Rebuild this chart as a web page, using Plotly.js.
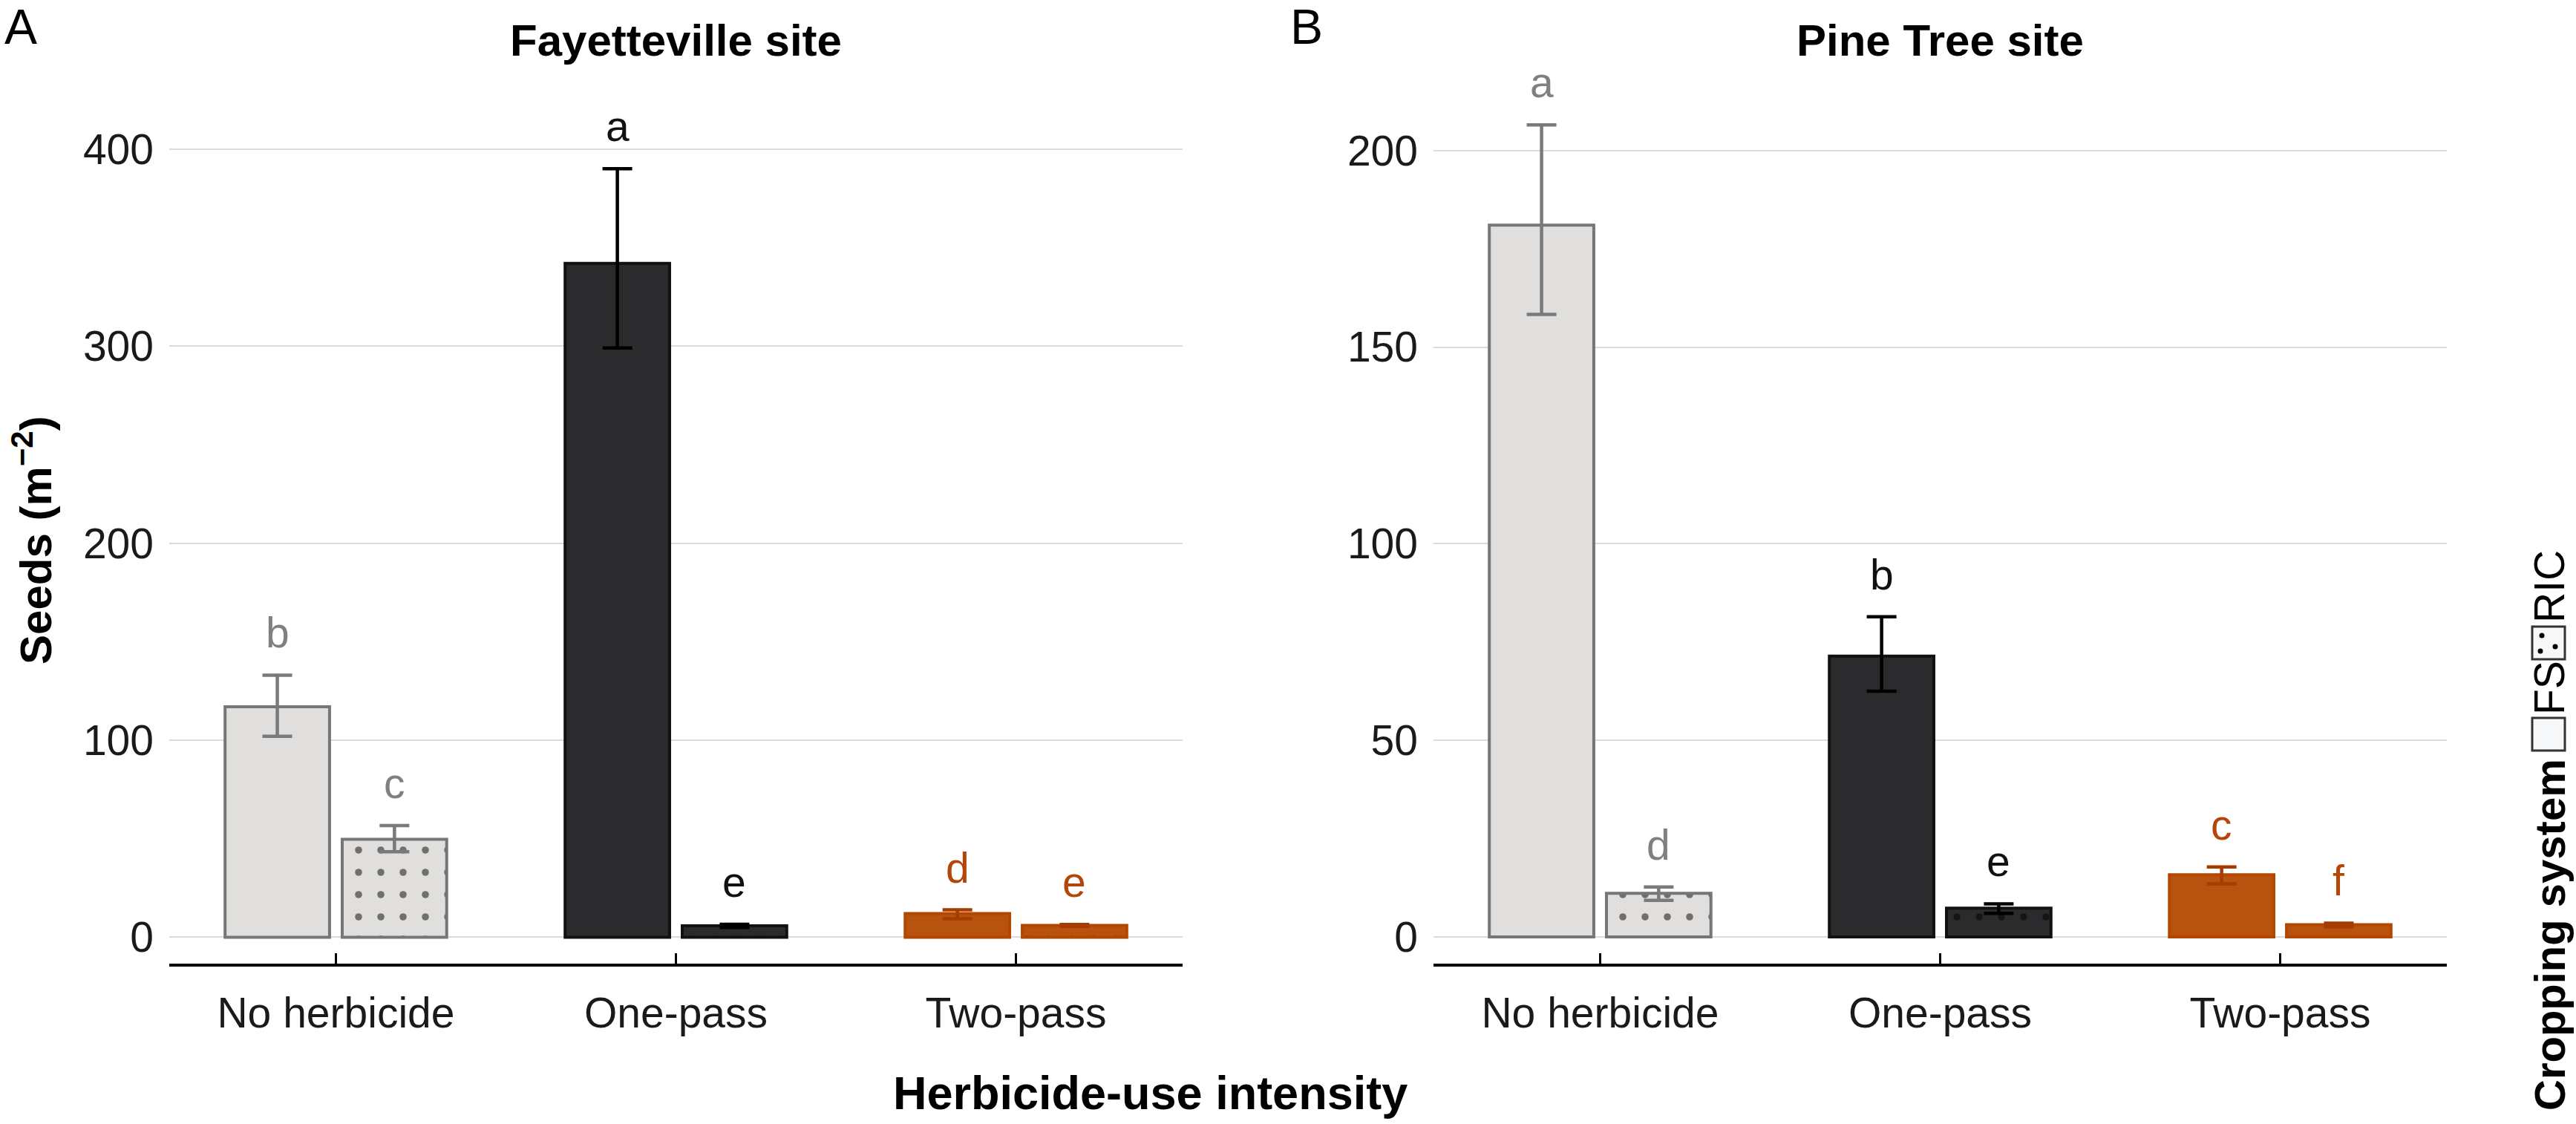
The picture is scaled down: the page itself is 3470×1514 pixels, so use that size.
<!DOCTYPE html>
<html><head><meta charset="utf-8">
<script src="https://cdn.plot.ly/plotly-3.0.1.min.js"></script>
<style>html,body{margin:0;padding:0;background:#fff}#chart{width:3470px;height:1514px}</style>
</head><body><div id="chart"></div>
<script>
// ---------- data ----------
const herbicide = ["No herbicide", "One-pass", "Two-pass"];
const systems = ["FS", "RIC"];
const siteTitles = ["Fayetteville site", "Pine Tree site"];
const panelLetters = ["A", "B"];

// Fayetteville
const fayFS = [117, 342, 12];
const fayFSplus = [16, 48, 1.9];
const fayFSminus = [15, 43, 2.6];
const fayRIC = [49.7, 5.8, 6];
const fayRICplus = [7, 0.8, 0.5];
const fayRICminus = [6.3, 0.8, 0.5];
const fayFSletters = ["b", "a", "d"];
const fayRICletters = ["c", "e", "e"];

// Pine Tree
const pineFS = [181, 71.4, 15.8];
const pineFSplus = [25.5, 10, 2];
const pineFSminus = [22.7, 8.9, 2.3];
const pineRIC = [11.1, 7.3, 3.1];
const pineRICplus = [1.6, 1.1, 0.4];
const pineRICminus = [1.8, 1.3, 0.5];
const pineFSletters = ["a", "b", "c"];
const pineRICletters = ["d", "e", "f"];

const yTicksFay = [0, 100, 200, 300, 400];
const yTicksPine = [0, 50, 100, 150, 200];

// ---------- styles ----------
const W = 3470, H = 1514;
const fillCol = ["#e0dfdd", "#2b2b2d", "#b8530f"];
const lineCol = ["#767676", "#111111", "#b34700"];
const errCol = ["#7a7a7a", "#000000", "#a63c00"];
const letterCol = ["#808080", "#111111", "#b5460a"];
const FONT = "Liberation Sans, Arial, Helvetica, sans-serif";

const panels = [
  {xa: "x", ya: "y", vals: [fayFS, fayRIC], plus: [fayFSplus, fayRICplus], minus: [fayFSminus, fayRICminus], letters: [fayFSletters, fayRICletters]},
  {xa: "x2", ya: "y2", vals: [pineFS, pineRIC], plus: [pineFSplus, pineRICplus], minus: [pineFSminus, pineRICminus], letters: [pineFSletters, pineRICletters]}
];

const xDomains = [[228 / W, 1593 / W], [1931 / W, 3296 / W]];
const yDomain = [1 - 1298 / H, 1 - 110 / H];
const xRange = [-0.49, 2.49];
const bargap = 0.311, bargroupgap = 0.108;

const traces = [];
const annotations = [];

panels.forEach((p, pi) => {
  const catPx = (xDomains[pi][1] - xDomains[pi][0]) * W / (xRange[1] - xRange[0]);
  const slotPx = catPx * (1 - bargap) / 2;
  systems.forEach((s, si) => {
    herbicide.forEach((h, hi) => {
      const pattern = si === 1
        ? {shape: ".", fgcolor: "#000000", fillmode: "overlay", size: 30, solidity: 0.08}
        : {shape: ""};
      traces.push({
        type: "bar",
        x: [h], y: [p.vals[si][hi]],
        xaxis: p.xa, yaxis: p.ya,
        offsetgroup: s, name: s, showlegend: false,
        marker: {color: fillCol[hi], line: {color: lineCol[hi], width: 4}, pattern: pattern},
        error_y: {type: "data", symmetric: false, array: [p.plus[si][hi]], arrayminus: [p.minus[si][hi]],
                  color: errCol[hi], thickness: 4.5, width: 20},
        hoverinfo: "skip"
      });
      annotations.push({
        xref: p.xa, yref: p.ya, x: h, y: p.vals[si][hi] + p.plus[si][hi],
        xshift: (si === 0 ? -1 : 1) * slotPx / 2, yshift: 23,
        xanchor: "center", yanchor: "bottom", showarrow: false,
        text: p.letters[si][hi], font: {family: FONT, size: 57, color: letterCol[hi]}
      });
    });
  });
  // panel titles
  annotations.push({xref: "paper", yref: "paper", x: (xDomains[pi][0] + xDomains[pi][1]) / 2, y: 1 - 54 / H,
    xanchor: "center", yanchor: "middle", showarrow: false,
    text: "<b>" + siteTitles[pi] + "</b>", font: {family: FONT, size: 60, color: "#000"}});
});

// panel letters
annotations.push({xref: "paper", yref: "paper", x: 28 / W, y: 1 - 36 / H, xanchor: "center", yanchor: "middle",
  showarrow: false, text: panelLetters[0], font: {family: FONT, size: 66, color: "#000"}});
annotations.push({xref: "paper", yref: "paper", x: 1760 / W, y: 1 - 36 / H, xanchor: "center", yanchor: "middle",
  showarrow: false, text: panelLetters[1], font: {family: FONT, size: 66, color: "#000"}});

// axis titles
annotations.push({xref: "paper", yref: "paper", x: 1549 / W, y: 1 - 1472 / H, xanchor: "center", yanchor: "middle",
  showarrow: false, text: "<b>Herbicide-use intensity</b>", font: {family: FONT, size: 63, color: "#000"}});
annotations.push({xref: "paper", yref: "paper", x: 44 / W, y: 1 - 728 / H, xanchor: "center", yanchor: "middle",
  showarrow: false, textangle: -90, text: "<b>Seeds (m<sup>−2</sup>)</b>", font: {family: FONT, size: 60, color: "#000"}});

// legend (rotated, drawn as annotations + key boxes)
const legX = 3434;
annotations.push({xref: "paper", yref: "paper", x: legX / W, y: 1 - 1259 / H, xanchor: "center", yanchor: "middle",
  showarrow: false, textangle: -90, text: "<b>Cropping system</b>", font: {family: FONT, size: 58, color: "#000"}});
annotations.push({xref: "paper", yref: "paper", x: legX / W, y: 1 - 927 / H, xanchor: "center", yanchor: "middle",
  showarrow: false, textangle: -90, text: systems[0], font: {family: FONT, size: 57, color: "#000"}});
annotations.push({xref: "paper", yref: "paper", x: legX / W, y: 1 - 790 / H, xanchor: "center", yanchor: "middle",
  showarrow: false, textangle: -90, text: systems[1], font: {family: FONT, size: 57, color: "#000"}});

const shapes = [
  {type: "rect", xref: "paper", yref: "paper", x0: 3411 / W, x1: 3455 / W, y0: 1 - 1011 / H, y1: 1 - 967 / H,
   fillcolor: "#f6f8fa", line: {color: "#333", width: 3}},
  {type: "rect", xref: "paper", yref: "paper", x0: 3411 / W, x1: 3455 / W, y0: 1 - 888 / H, y1: 1 - 844 / H,
   fillcolor: "#f6f8fa", line: {color: "#333", width: 3}}
];
[[3422, 877], [3442, 871], [3424, 856]].forEach(d => {
  shapes.push({type: "circle", xref: "paper", yref: "paper", x0: (d[0] - 3.5) / W, x1: (d[0] + 3.5) / W,
    y0: 1 - (d[1] + 3.5) / H, y1: 1 - (d[1] - 3.5) / H, fillcolor: "#000", line: {width: 0}});
});

function xaxisDef(dom, anchor) {
  return {domain: dom, anchor: anchor, type: "category", categoryorder: "array", categoryarray: herbicide,
    range: xRange, showline: true, linecolor: "#000", linewidth: 4, ticks: "inside", ticklen: 14, tickwidth: 3,
    tickcolor: "#000", tickfont: {family: FONT, size: 57, color: "#1a1a1a"}, showgrid: false, zeroline: false,
    ticklabelstandoff: 14, fixedrange: true};
}
function yaxisDef(range, ticks, anchor) {
  return {domain: yDomain, anchor: anchor, range: range, tickmode: "array", tickvals: ticks,
    ticktext: ticks.map(String), showgrid: true, gridcolor: "#dadcdc", gridwidth: 2, zeroline: false,
    showline: false, ticks: "", tickfont: {family: FONT, size: 57, color: "#1a1a1a"}, ticklabelstandoff: 20,
    fixedrange: true};
}

const layout = {
  width: W, height: H, margin: {l: 0, r: 0, t: 0, b: 0},
  paper_bgcolor: "#ffffff", plot_bgcolor: "#ffffff",
  barmode: "group", bargap: bargap, bargroupgap: bargroupgap,
  font: {family: FONT, color: "#000"},
  showlegend: false,
  xaxis: xaxisDef(xDomains[0], "y"),
  yaxis: yaxisDef([-13.4, 434.2], yTicksFay, "x"),
  xaxis2: xaxisDef(xDomains[1], "y2"),
  yaxis2: yaxisDef([-6.8, 217.5], yTicksPine, "x2"),
  annotations: annotations,
  shapes: shapes
};

Plotly.newPlot("chart", traces, layout, {staticPlot: true, displayModeBar: false});
</script>
</body></html>
